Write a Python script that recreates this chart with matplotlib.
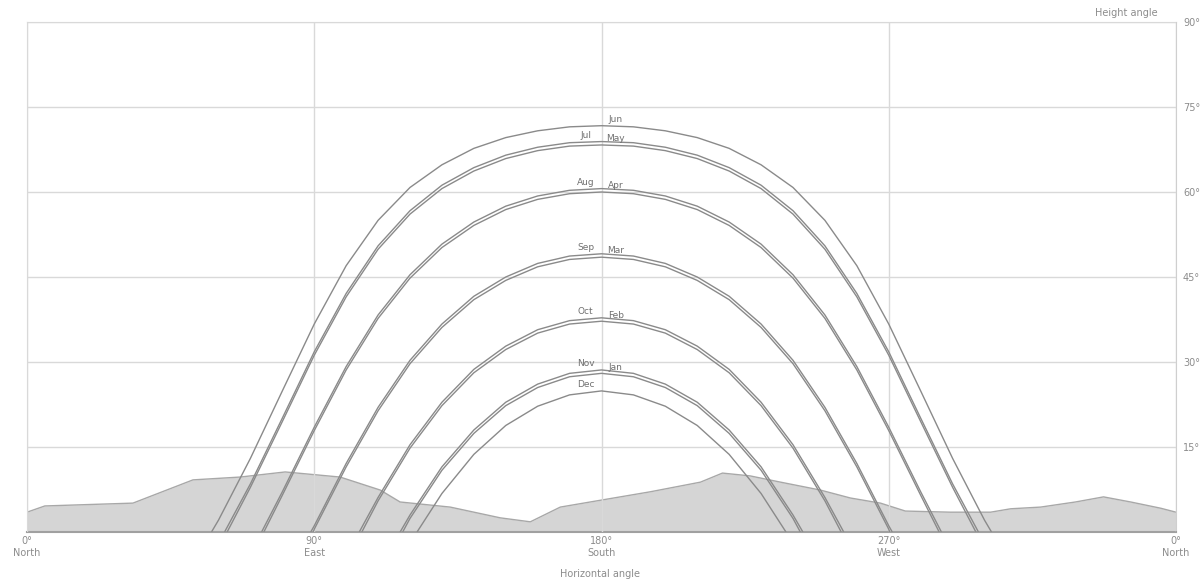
import matplotlib.pyplot as plt

## Sun path data (azimuth grid in degrees, elevation per month, None = below horizon)
azimuth = [60, 70, 80, 90, 100, 110, 120, 130, 140, 150, 160, 170, 180,
           190, 200, 210, 220, 230, 240, 250, 260, 270, 280, 290, 300]

months = ['Jun', 'Jul', 'May', 'Aug', 'Apr', 'Sep', 'Mar', 'Oct', 'Feb', 'Nov', 'Jan', 'Dec']
rise_az = [57.8, 61.9, 62.7, 73.5, 74.2, 88.9, 89.7, 104.1, 104.9, 116.9, 117.7, 122.2]
set_az = [302.2, 298.1, 297.3, 286.5, 285.8, 271.1, 270.3, 255.9, 255.1, 243.1, 242.3, 237.8]

el_jun = [2.1, 13.0, 24.9, 36.7, 47.0, 55.0, 60.8, 64.8, 67.7, 69.6, 70.8, 71.5, 71.7,
          71.5, 70.8, 69.6, 67.7, 64.8, 60.8, 55.0, 47.0, 36.7, 24.9, 13.0, 2.1]
el_jul = [None, 8.5, 20.1, 31.8, 42.1, 50.5, 56.7, 61.2, 64.3, 66.5, 67.9, 68.7, 68.9,
          68.7, 67.9, 66.5, 64.3, 61.2, 56.7, 50.5, 42.1, 31.8, 20.1, 8.5, None]
el_may = [None, 7.9, 19.5, 31.2, 41.5, 49.9, 56.1, 60.6, 63.7, 65.9, 67.3, 68.1, 68.3,
          68.1, 67.3, 65.9, 63.7, 60.6, 56.1, 49.9, 41.5, 31.2, 19.5, 7.9, None]
el_aug = [None, None, 7.1, 18.5, 29.2, 38.3, 45.4, 50.8, 54.7, 57.5, 59.3, 60.3, 60.6,
          60.3, 59.3, 57.5, 54.7, 50.8, 45.4, 38.3, 29.2, 18.5, 7.1, None, None]
el_apr = [None, None, 6.5, 17.9, 28.6, 37.7, 44.8, 50.2, 54.1, 56.9, 58.7, 59.7, 60.0,
          59.7, 58.7, 56.9, 54.1, 50.2, 44.8, 37.7, 28.6, 17.9, 6.5, None, None]
el_sep = [None, None, None, 1.1, 12.1, 22.0, 30.3, 36.7, 41.6, 45.0, 47.4, 48.7, 49.1,
          48.7, 47.4, 45.0, 41.6, 36.7, 30.3, 22.0, 12.1, 1.1, None, None, None]
el_mar = [None, None, None, 0.5, 11.5, 21.4, 29.7, 36.1, 41.0, 44.4, 46.8, 48.1, 48.5,
          48.1, 46.8, 44.4, 41.0, 36.1, 29.7, 21.4, 11.5, 0.5, None, None, None]
el_oct = [None, None, None, None, None, 6.1, 15.4, 22.9, 28.7, 32.8, 35.7, 37.3, 37.8,
          37.3, 35.7, 32.8, 28.7, 22.9, 15.4, 6.1, None, None, None, None, None]
el_feb = [None, None, None, None, None, 5.5, 14.8, 22.3, 28.1, 32.2, 35.1, 36.7, 37.2,
          36.7, 35.1, 32.2, 28.1, 22.3, 14.8, 5.5, None, None, None, None, None]
el_nov = [None, None, None, None, None, None, 3.0, 11.5, 18.0, 22.9, 26.1, 28.0, 28.6,
          28.0, 26.1, 22.9, 18.0, 11.5, 3.0, None, None, None, None, None, None]
el_jan = [None, None, None, None, None, None, 2.4, 10.9, 17.4, 22.3, 25.5, 27.4, 28.0,
          27.4, 25.5, 22.3, 17.4, 10.9, 2.4, None, None, None, None, None, None]
el_dec = [None, None, None, None, None, None, None, 6.8, 13.7, 18.8, 22.2, 24.2, 24.9,
          24.2, 22.2, 18.8, 13.7, 6.8, None, None, None, None, None, None, None]

elevations = [el_jun, el_jul, el_may, el_aug, el_apr, el_sep, el_mar,
              el_oct, el_feb, el_nov, el_jan, el_dec]
label_side = ['right', 'left', 'right', 'left', 'right', 'left', 'right',
              'left', 'right', 'left', 'right', 'left']

## Horizon profile
terrain_az = [0, 5.6, 33.2, 52.0, 66.8, 80.9, 98.1, 110.7, 116.9, 132.6, 148.3, 157.7,
              167.1, 179.6, 195.3, 211.0, 217.9, 226.6, 236.1, 248.6, 258.0, 267.4,
              275.2, 289.3, 301.9, 308.2, 317.6, 328.5, 337.3, 345.8, 355.2, 360]
terrain_el = [3.5, 4.6, 5.1, 9.2, 9.7, 10.6, 9.7, 7.4, 5.3, 4.4, 2.5, 1.8,
              4.4, 5.6, 7.1, 8.8, 10.4, 9.9, 8.8, 7.4, 6.0, 5.1,
              3.7, 3.5, 3.5, 4.1, 4.4, 5.3, 6.2, 5.3, 4.2, 3.5]

x_ticks = [0, 90, 180, 270, 360]
x_labels = ['0°\nNorth', '90°\nEast', '180°\nSouth', '270°\nWest', '0°\nNorth']
y_ticks = [15, 30, 45, 60, 75, 90]
y_labels = ['15°', '30°', '45°', '60°', '75°', '90°']

text_gray = '#8c8c8c'
line_gray = '#8a8a8a'

## Plotting
fig = plt.figure(figsize=(12, 5.88), dpi=100)
ax = fig.add_axes([0.0225, 0.0952, 0.9575, 0.8674])

ax.fill_between(terrain_az, 0, terrain_el, color='#d5d5d5', zorder=1, linewidth=0)
ax.plot(terrain_az, terrain_el, color='#a8a8a8', lw=1.0, zorder=1.5)

for name, el, r, s, side in zip(months, elevations, rise_az, set_az, label_side):
    xs = [r] + [a for a, e in zip(azimuth, el) if e is not None] + [s]
    ys = [0] + [e for e in el if e is not None] + [0]
    ax.plot(xs, ys, color=line_gray, lw=1.0, zorder=3, solid_capstyle='butt')
    peak = max(ys)
    lx = 175 if side == 'left' else 184.5
    ax.text(lx, peak + 0.3, name, ha='center', va='bottom', fontsize=6.5,
            color='#6f6f6f', zorder=4)

ax.set_xlim(0, 360)
ax.set_ylim(0, 90)
ax.set_xticks(x_ticks)
ax.set_xticklabels(x_labels)
ax.set_yticks(y_ticks)
ax.set_yticklabels(y_labels)
ax.yaxis.tick_right()
ax.tick_params(axis='both', length=0, labelsize=7, labelcolor=text_gray)
ax.tick_params(axis='x', pad=3)
ax.tick_params(axis='y', pad=5)

ax.set_axisbelow(False)
ax.grid(True, color='#d9d9d9', lw=1.0, zorder=2)
for side in ['left', 'right', 'top']:
    ax.spines[side].set_color('#cfcfcf')
ax.spines['bottom'].set_color('#a0a0a0')
ax.spines['bottom'].set_linewidth(1.5)

fig.text(0.965, 0.978, 'Height angle', ha='right', va='center', fontsize=7, color=text_gray)
fig.text(0.5, 0.015, 'Horizontal angle', ha='center', va='bottom', fontsize=7, color=text_gray)

plt.savefig('out.png', dpi=100)
